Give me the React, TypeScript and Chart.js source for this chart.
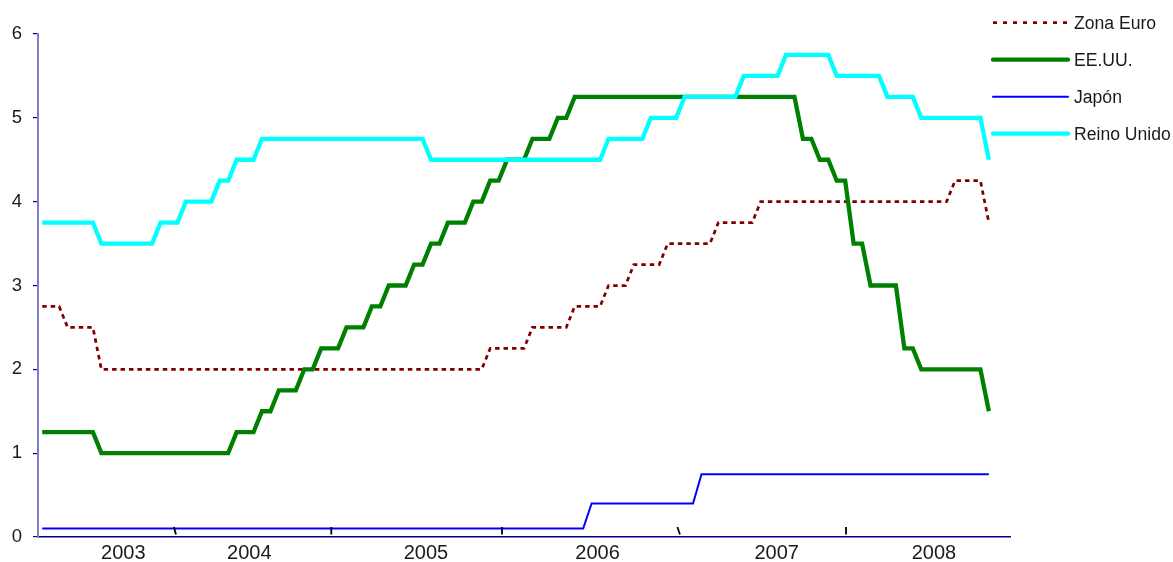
import React, { useEffect, useRef } from 'react';
import { Chart, registerables } from 'chart.js';

Chart.register(...registerables);

const seriesNames = ['Zona Euro', 'EE.UU.', 'Japón', 'Reino Unido'];

const zonaEuro = [
  2.75, 2.75, 2.75, 2.5, 2.5, 2.5, 2.5, 2, 2, 2,
  2, 2, 2, 2, 2, 2, 2, 2, 2, 2,
  2, 2, 2, 2, 2, 2, 2, 2, 2, 2,
  2, 2, 2, 2, 2, 2, 2, 2, 2, 2,
  2, 2, 2, 2, 2, 2, 2, 2, 2, 2,
  2, 2, 2, 2.25, 2.25, 2.25, 2.25, 2.25, 2.5, 2.5,
  2.5, 2.5, 2.5, 2.75, 2.75, 2.75, 2.75, 3, 3, 3,
  3.25, 3.25, 3.25, 3.25, 3.5, 3.5, 3.5, 3.5, 3.5, 3.5,
  3.75, 3.75, 3.75, 3.75, 3.75, 4, 4, 4, 4, 4,
  4, 4, 4, 4, 4, 4, 4, 4, 4, 4,
  4, 4, 4, 4, 4, 4, 4, 4, 4.25, 4.25,
  4.25, 4.25, 3.75,
];

const eeuu = [
  1.25, 1.25, 1.25, 1.25, 1.25, 1.25, 1.25, 1, 1, 1,
  1, 1, 1, 1, 1, 1, 1, 1, 1, 1,
  1, 1, 1, 1.25, 1.25, 1.25, 1.5, 1.5, 1.75, 1.75,
  1.75, 2, 2, 2.25, 2.25, 2.25, 2.5, 2.5, 2.5, 2.75,
  2.75, 3, 3, 3, 3.25, 3.25, 3.5, 3.5, 3.75, 3.75,
  3.75, 4, 4, 4.25, 4.25, 4.5, 4.5, 4.5, 4.75, 4.75,
  4.75, 5, 5, 5.25, 5.25, 5.25, 5.25, 5.25, 5.25, 5.25,
  5.25, 5.25, 5.25, 5.25, 5.25, 5.25, 5.25, 5.25, 5.25, 5.25,
  5.25, 5.25, 5.25, 5.25, 5.25, 5.25, 5.25, 5.25, 5.25, 5.25,
  4.75, 4.75, 4.5, 4.5, 4.25, 4.25, 3.5, 3.5, 3, 3,
  3, 3, 2.25, 2.25, 2, 2, 2, 2, 2, 2,
  2, 2, 1.5,
];

const japon = [
  0.1, 0.1, 0.1, 0.1, 0.1, 0.1, 0.1, 0.1, 0.1, 0.1,
  0.1, 0.1, 0.1, 0.1, 0.1, 0.1, 0.1, 0.1, 0.1, 0.1,
  0.1, 0.1, 0.1, 0.1, 0.1, 0.1, 0.1, 0.1, 0.1, 0.1,
  0.1, 0.1, 0.1, 0.1, 0.1, 0.1, 0.1, 0.1, 0.1, 0.1,
  0.1, 0.1, 0.1, 0.1, 0.1, 0.1, 0.1, 0.1, 0.1, 0.1,
  0.1, 0.1, 0.1, 0.1, 0.1, 0.1, 0.1, 0.1, 0.1, 0.1,
  0.1, 0.1, 0.1, 0.1, 0.1, 0.4, 0.4, 0.4, 0.4, 0.4,
  0.4, 0.4, 0.4, 0.4, 0.4, 0.4, 0.4, 0.4, 0.75, 0.75,
  0.75, 0.75, 0.75, 0.75, 0.75, 0.75, 0.75, 0.75, 0.75, 0.75,
  0.75, 0.75, 0.75, 0.75, 0.75, 0.75, 0.75, 0.75, 0.75, 0.75,
  0.75, 0.75, 0.75, 0.75, 0.75, 0.75, 0.75, 0.75, 0.75, 0.75,
  0.75, 0.75, 0.75,
];

const reinoUnido = [
  3.75, 3.75, 3.75, 3.75, 3.75, 3.75, 3.75, 3.5, 3.5, 3.5,
  3.5, 3.5, 3.5, 3.5, 3.75, 3.75, 3.75, 4, 4, 4,
  4, 4.25, 4.25, 4.5, 4.5, 4.5, 4.75, 4.75, 4.75, 4.75,
  4.75, 4.75, 4.75, 4.75, 4.75, 4.75, 4.75, 4.75, 4.75, 4.75,
  4.75, 4.75, 4.75, 4.75, 4.75, 4.75, 4.5, 4.5, 4.5, 4.5,
  4.5, 4.5, 4.5, 4.5, 4.5, 4.5, 4.5, 4.5, 4.5, 4.5,
  4.5, 4.5, 4.5, 4.5, 4.5, 4.5, 4.5, 4.75, 4.75, 4.75,
  4.75, 4.75, 5, 5, 5, 5, 5.25, 5.25, 5.25, 5.25,
  5.25, 5.25, 5.25, 5.5, 5.5, 5.5, 5.5, 5.5, 5.75, 5.75,
  5.75, 5.75, 5.75, 5.75, 5.5, 5.5, 5.5, 5.5, 5.5, 5.5,
  5.25, 5.25, 5.25, 5.25, 5, 5, 5, 5, 5, 5,
  5, 5, 4.5,
];

// x axis: observation index; 115 category slots, year labels at these slots
const xMin = -0.5;
const xMax = 114.5;
const yearLabels = ['2003', '2004', '2005', '2006', '2007', '2008'];
const yearTickPos = [9.6, 24.5, 45.4, 65.7, 86.9, 105.5];
const yTicks = [0, 1, 2, 3, 4, 5, 6];
// small black marks seen just above the x axis
const axisMarkPos = [15.7, 34.2, 54.4, 75.3, 95.1];

const FONT = '"Liberation Sans", Arial, sans-serif';
const TEXT = '#1a1a1a';

const toXY = (vals: number[]) => vals.map((y, x) => ({ x, y }));

const axisMarksPlugin = {
  id: 'axisMarks',
  afterDatasetsDraw(chart: any) {
    const { ctx, scales } = chart;
    const slant = [2, 0, 0, 2.5, 0];
    const bottom = chart.chartArea.bottom;
    ctx.save();
    ctx.strokeStyle = '#000000';
    ctx.lineWidth = 1.8;
    axisMarkPos.forEach((p, i) => {
      const x = scales.x.getPixelForValue(p);
      ctx.beginPath();
      ctx.moveTo(x - slant[i] / 2, bottom - 10);
      ctx.lineTo(x + slant[i] / 2, bottom - 2.5);
      ctx.stroke();
    });
    ctx.restore();
  },
};

const sideLegendPlugin = {
  id: 'sideLegend',
  afterDraw(chart: any) {
    const ctx = chart.ctx;
    const x0 = 993;
    const x1 = 1068;
    chart.data.datasets.forEach((ds: any, i: number) => {
      const y = 22.7 + i * 37;
      ctx.save();
      ctx.strokeStyle = ds.borderColor;
      ctx.lineWidth = ds.borderWidth;
      const dashed = ds.borderDash && ds.borderDash.length;
      ctx.setLineDash(dashed ? [4, 6] : []);
      ctx.lineCap = dashed ? 'butt' : 'round';
      ctx.beginPath();
      ctx.moveTo(x0, y);
      ctx.lineTo(x1, y);
      ctx.stroke();
      ctx.setLineDash([]);
      ctx.fillStyle = TEXT;
      ctx.font = `17.6px ${FONT}`;
      ctx.textBaseline = 'middle';
      ctx.textAlign = 'left';
      ctx.fillText(ds.label, 1074, y + 1);
      ctx.restore();
    });
  },
};

export default function App() {
  const canvasRef = useRef<HTMLCanvasElement | null>(null);

  useEffect(() => {
    if (!canvasRef.current) return;
    const common = { pointRadius: 0, pointHoverRadius: 0, tension: 0, fill: false };
    const chart = new Chart(canvasRef.current, {
      type: 'line',
      data: {
        datasets: [
          {
            ...common,
            label: seriesNames[0],
            data: toXY(zonaEuro),
            borderColor: '#800000',
            borderWidth: 2.75,
            borderDash: [4.5, 3.95],
            order: 3,
          },
          {
            ...common,
            label: seriesNames[1],
            data: toXY(eeuu),
            borderColor: '#008000',
            borderWidth: 4.3,
            order: 2,
          },
          {
            ...common,
            label: seriesNames[2],
            data: toXY(japon),
            borderColor: '#0000FF',
            borderWidth: 2,
            order: 1,
          },
          {
            ...common,
            label: seriesNames[3],
            data: toXY(reinoUnido),
            borderColor: '#00FFFF',
            borderWidth: 4.3,
            order: 0,
          },
        ],
      } as any,
      options: {
        animation: false,
        responsive: true,
        maintainAspectRatio: false,
        layout: { padding: { left: 0, right: 163, top: 34, bottom: 0 } },
        plugins: { legend: { display: false }, tooltip: { enabled: false } },
        scales: {
          x: {
            type: 'linear',
            min: xMin,
            max: xMax,
            grid: { display: false, drawTicks: false },
            border: { display: true, color: '#000080', width: 1.5 },
            afterBuildTicks: (scale: any) => {
              scale.ticks = yearTickPos.map((v) => ({ value: v }));
            },
            afterFit: (scale: any) => {
              scale.height = 25;
            },
            ticks: {
              autoSkip: false,
              maxRotation: 0,
              padding: 4,
              color: TEXT,
              font: { family: FONT, size: 20 },
              callback: (_v: any, i: number) => yearLabels[i],
            },
          },
          y: {
            type: 'linear',
            min: 0,
            max: 6,
            afterBuildTicks: (scale: any) => {
              scale.ticks = yTicks.map((v) => ({ value: v }));
            },
            afterFit: (scale: any) => {
              scale.width = 38;
            },
            grid: {
              drawOnChartArea: false,
              drawTicks: true,
              tickLength: 5,
              color: '#000080',
              lineWidth: 1.2,
            },
            border: { display: true, color: '#8080C8', width: 2 },
            ticks: {
              padding: 11,
              color: TEXT,
              font: { family: FONT, size: 18.5 },
              callback: (v: any) => String(v),
            },
          },
        },
      } as any,
      plugins: [axisMarksPlugin, sideLegendPlugin],
    });
    return () => chart.destroy();
  }, []);

  return (
    <div style={{ position: 'fixed', left: 0, top: 0, width: 1173, height: 562, background: '#ffffff' }}>
      <canvas ref={canvasRef} />
    </div>
  );
}
